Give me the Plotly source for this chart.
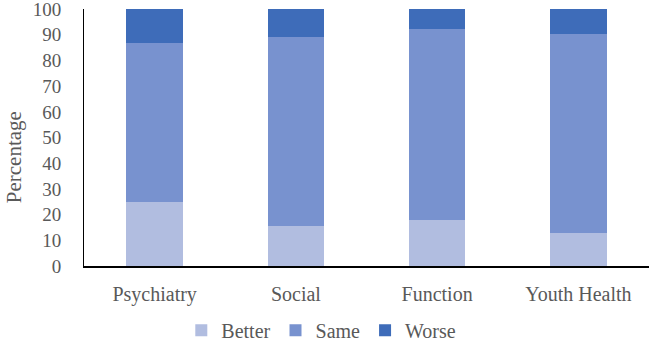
import plotly.graph_objects as go

categories = ["Psychiatry", "Social", "Function", "Youth Health"]
better = [25.0, 15.7, 18.0, 12.8]
same = [62.0, 73.6, 74.4, 77.6]
worse = [13.0, 10.7, 7.6, 9.6]

colors = {"Better": "#b1bde0", "Same": "#7892cf", "Worse": "#3e6cb9"}
font = "Liberation Serif, Times New Roman, serif"
gray = "#595959"

fig = go.Figure()
for name, vals in [("Better", better), ("Same", same), ("Worse", worse)]:
    fig.add_trace(go.Bar(name=name, x=categories, y=vals,
                         marker=dict(color=colors[name], line=dict(width=0))))

fig.update_layout(
    barmode="stack",
    bargap=0.6,
    width=650, height=341,
    margin=dict(l=84, r=1, t=9, b=75, autoexpand=False),
    paper_bgcolor="white", plot_bgcolor="white",
    font=dict(family=font, color=gray, size=20),
    showlegend=True,
    legend=dict(orientation="h", x=0.42, xanchor="center", y=-0.25, yanchor="middle",
                font=dict(size=20, color=gray), itemwidth=30, traceorder="normal"),
    xaxis=dict(showline=True, linecolor="black", linewidth=1.5, ticks="",
               tickfont=dict(size=20, color=gray), ticklabelstandoff=9, automargin=False),
    yaxis=dict(range=[0, 100.05], tickvals=list(range(0, 101, 10)), showline=True,
               linecolor="black", linewidth=1, automargin=False, ticklabeloverflow="allow",
               showgrid=False, zeroline=False, ticks="", ticklabelstandoff=18,
               tickfont=dict(size=19, color=gray)),
    annotations=[dict(text="Percentage", textangle=-90, xref="paper", yref="paper",
                      x=-0.124, y=0.423, xanchor="center", yanchor="middle", showarrow=False,
                      font=dict(size=21, color=gray))],
)

fig.write_html("out.html")
